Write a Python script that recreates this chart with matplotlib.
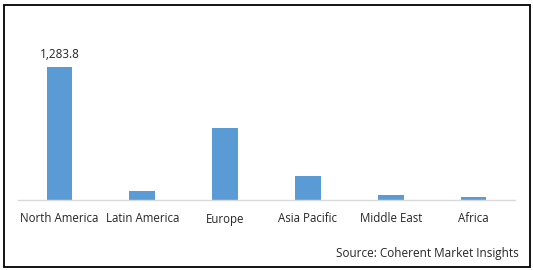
import matplotlib
matplotlib.use("Agg")
import matplotlib.pyplot as plt
from matplotlib.patches import Rectangle

categories = ["North America", "Latin America", "Europe", "Asia Pacific", "Middle East", "Africa"]
values = [1283.8, 87, 695, 232, 48, 29]
label_text = "1,283.8"
source = "Source: Coherent Market Insights"

W, H = 533, 270
fig = plt.figure(figsize=(W / 100, H / 100), dpi=100)
plt.rcParams['font.family'] = ['Open Sans', 'DejaVu Sans']

# outer border
fig.patches.append(Rectangle((3.5 / W, 1 - 266.5 / H), (529.5 - 3.5) / W, (266.5 - 4.5) / H,
                             transform=fig.transFigure, fill=False, edgecolor='black', linewidth=1.3))

x0, x1 = 18, 515
ytop, ybot = 34, 200
ax = fig.add_axes([x0 / W, 1 - ybot / H, (x1 - x0) / W, (ybot - ytop) / H])
xs = list(range(len(categories)))
ax.bar(xs, values, width=0.31, color='#5b9bd5')
ax.set_xlim(-0.5, len(categories) - 0.5)
ax.set_ylim(0, 1600)
for s in ['top', 'right', 'left']:
    ax.spines[s].set_visible(False)
ax.spines['bottom'].set_color('#d9d9d9')
ax.spines['bottom'].set_linewidth(1)
ax.set_yticks([])
ax.set_xticks(xs)
ax.set_xticklabels(categories, fontsize=8.3, color='#262626')
ax.tick_params(axis='x', length=0, pad=9)
ax.annotate(label_text, (xs[0], values[0]), xytext=(0, 4), textcoords='offset points',
            ha='center', va='bottom', fontsize=8.5, color='#262626')

fig.text(519 / W, 1 - 253 / H, source, ha='right', va='center', fontsize=8.5, color='#262626')

fig.savefig("out.png", dpi=100)
